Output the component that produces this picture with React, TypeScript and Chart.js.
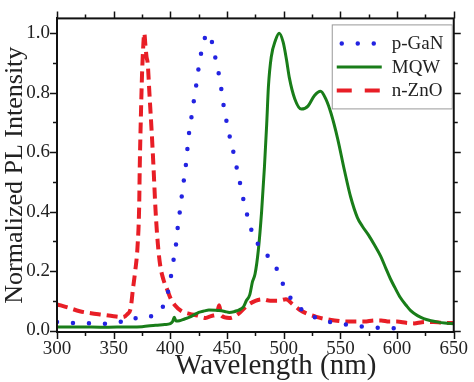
import React, { useEffect, useRef } from 'react';
import { Chart, registerables } from 'chart.js';

Chart.register(...registerables);

const SERIF = '"Liberation Serif", "Times New Roman", serif';

const xTickValues = [300, 350, 400, 450, 500, 550, 600, 650];
const yTickValues = [0, 0.2, 0.4, 0.6, 0.8, 1.0];
const xAxisTitle = 'Wavelength (nm)';
const yAxisTitle = 'Normalized PL Intensity';
const seriesNames = ['p-GaN', 'MQW', 'n-ZnO'];

const ganWavelength = [300, 313, 326, 339, 352, 360, 365, 372, 377, 384, 390, 394, 397, 400, 402, 404.7, 406, 408, 410, 411.7, 413.5, 415, 416.5, 418.7, 421, 423, 425, 427.5, 431, 433, 436, 439, 441.7, 444, 446, 448.3, 451.3, 454.5, 457.8, 460.7, 463.6, 467, 470.6, 474.7, 478, 482, 486, 489, 495, 499.5, 505, 512.6, 520, 527, 536, 547, 559, 572, 587, 600];
const ganIntensity = [0.029, 0.025, 0.025, 0.023, 0.025, 0.035, 0.045, 0.04, 0.04, 0.05, 0.06, 0.085, 0.115, 0.17, 0.22, 0.28, 0.33, 0.39, 0.45, 0.5, 0.55, 0.61, 0.665, 0.72, 0.78, 0.83, 0.885, 0.94, 0.99, 1.0, 0.98, 0.93, 0.88, 0.84, 0.78, 0.73, 0.67, 0.62, 0.56, 0.51, 0.455, 0.4, 0.35, 0.3, 0.29, 0.28, 0.25, 0.23, 0.2, 0.155, 0.115, 0.083, 0.056, 0.045, 0.032, 0.025, 0.018, 0.012, 0.009, 0.007];

const mqwWavelength = [300, 320, 340, 360, 375, 387, 395, 400, 402, 403.5, 405, 408, 412, 417, 421, 425, 430, 434, 440, 443, 448, 452, 456, 459, 462, 464.5, 467, 470, 472.5, 474.7, 477.6, 480.5, 483, 485, 486.5, 489, 492.8, 496, 499.5, 502.5, 505, 509.7, 515.5, 521.4, 527, 532.5, 537, 541.8, 547.6, 553.5, 559, 565, 569.5, 575, 579.7, 585.5, 590, 594, 598, 603, 608, 612, 618, 623.5, 630, 635, 642, 650];
const mqwIntensity = [0.012, 0.012, 0.011, 0.012, 0.013, 0.018, 0.02, 0.023, 0.03, 0.045, 0.032, 0.033, 0.038, 0.045, 0.053, 0.061, 0.066, 0.069, 0.068, 0.067, 0.064, 0.061, 0.063, 0.067, 0.072, 0.08, 0.1, 0.12, 0.165, 0.19, 0.27, 0.4, 0.55, 0.695, 0.82, 0.92, 0.977, 1.0, 0.97, 0.91, 0.85, 0.78, 0.745, 0.755, 0.79, 0.805, 0.78, 0.73, 0.645, 0.54, 0.45, 0.38, 0.35, 0.32, 0.29, 0.25, 0.21, 0.175, 0.145, 0.11, 0.085, 0.067, 0.05, 0.04, 0.033, 0.029, 0.025, 0.023];

const znoWavelength = [300, 310, 320, 330, 340, 350, 358, 362, 365, 367, 369, 371, 372.5, 373, 374, 375, 376, 377, 378, 379, 380, 381.5, 383.5, 385, 387, 389, 391, 394, 397, 400, 404, 410, 417, 424, 431, 437, 441, 443, 445, 452, 460, 468, 475, 481, 488, 495, 502, 508, 514, 521, 528, 535, 545, 556, 565, 571, 580, 586, 593, 600, 608, 615, 622, 632, 640, 650];
const znoIntensity = [0.088, 0.077, 0.065, 0.058, 0.053, 0.048, 0.045, 0.055, 0.075, 0.14, 0.2, 0.28, 0.42, 0.55, 0.72, 0.86, 0.95, 1.0, 0.96, 0.92, 0.9, 0.8, 0.67, 0.56, 0.4, 0.29, 0.22, 0.17, 0.14, 0.11, 0.085, 0.065, 0.056, 0.05, 0.042, 0.05, 0.055, 0.085, 0.05, 0.042, 0.056, 0.085, 0.1, 0.105, 0.1, 0.1, 0.105, 0.088, 0.07, 0.056, 0.047, 0.04, 0.034, 0.03, 0.03, 0.03, 0.034, 0.034, 0.03, 0.03, 0.026, 0.024, 0.028, 0.029, 0.026, 0.025];

const toPoints = (xs: number[], ys: number[]) => xs.map((x, i) => ({ x, y: ys[i] }));

const legendDashes: number[][] = [[0, 16], [], [15, 13]];

const frameTicksPlugin = {
  id: 'frameTicks',
  afterDraw(chart: any) {
    const { ctx, chartArea: a, scales } = chart;
    const xs = scales.x;
    const ys = scales.y;
    ctx.save();
    ctx.strokeStyle = '#111';
    ctx.lineWidth = 1.5;
    ctx.setLineDash([]);
    ctx.beginPath();
    for (let v = 300; v <= 650; v += 25) {
      const len = v % 50 === 0 ? 7 : 4;
      const px = Math.round(xs.getPixelForValue(v)) + 0.5;
      ctx.moveTo(px, a.bottom);
      ctx.lineTo(px, a.bottom + len);
      ctx.moveTo(px, a.top);
      ctx.lineTo(px, a.top - len);
    }
    for (let k = 0; k <= 10; k++) {
      const v = k / 10;
      const len = k % 2 === 0 ? 7 : 4;
      const py = Math.round(ys.getPixelForValue(v)) + 0.5;
      ctx.moveTo(a.left, py);
      ctx.lineTo(a.left - len, py);
      ctx.moveTo(a.right, py);
      ctx.lineTo(a.right + len, py);
    }
    ctx.stroke();
    ctx.lineWidth = 2;
    ctx.strokeRect(a.left, a.top, a.right - a.left, a.bottom - a.top);

    // x axis title (slightly right of centre, as in the source figure)
    ctx.fillStyle = '#222';
    ctx.font = `29px ${SERIF}`;
    ctx.textAlign = 'center';
    ctx.textBaseline = 'alphabetic';
    ctx.fillText(xAxisTitle, xs.getPixelForValue(493), 374);

    // legend
    const boxRight = a.right - 2;
    const boxLeft = boxRight - 120;
    const boxTop = a.top + 6;
    const boxH = 84;
    ctx.fillStyle = '#fff';
    ctx.fillRect(boxLeft, boxTop, boxRight - boxLeft, boxH);
    ctx.strokeStyle = '#999';
    ctx.lineWidth = 1;
    ctx.strokeRect(boxLeft + 0.5, boxTop + 0.5, boxRight - boxLeft, boxH);
    chart.data.datasets.forEach((ds: any, i: number) => {
      const y = boxTop + 19 + i * 23.5;
      ctx.save();
      ctx.strokeStyle = ds.borderColor;
      ctx.lineWidth = ds.borderWidth;
      ctx.lineCap = ds.borderCapStyle || 'butt';
      ctx.setLineDash(legendDashes[i]);
      ctx.beginPath();
      if (i === 0) {
        ctx.moveTo(boxLeft + 10, y);
        ctx.lineTo(boxLeft + 44, y);
      } else {
        ctx.moveTo(boxLeft + 5, y);
        ctx.lineTo(boxLeft + 50, y);
      }
      ctx.stroke();
      ctx.restore();
      ctx.fillStyle = '#222';
      ctx.font = `19px ${SERIF}`;
      ctx.textAlign = 'left';
      ctx.textBaseline = 'middle';
      ctx.fillText(ds.label, boxLeft + 60, y + 1);
    });
    ctx.restore();
  },
};

export default function App() {
  const ref = useRef<HTMLCanvasElement | null>(null);

  useEffect(() => {
    document.body.style.margin = '0';
    const canvas = ref.current;
    if (!canvas) return;
    const chart = new Chart(canvas, {
      type: 'line',
      data: {
        datasets: [
          {
            label: seriesNames[0],
            data: toPoints(ganWavelength, ganIntensity),
            borderColor: 'rgb(35,35,225)',
            borderWidth: 4.5,
            borderDash: [0, 16],
            borderCapStyle: 'round',
            pointRadius: 0,
            cubicInterpolationMode: 'monotone',
            fill: false,
          },
          {
            label: seriesNames[1],
            data: toPoints(mqwWavelength, mqwIntensity),
            borderColor: 'rgb(25,125,25)',
            borderWidth: 3,
            pointRadius: 0,
            cubicInterpolationMode: 'monotone',
            fill: false,
          },
          {
            label: seriesNames[2],
            data: toPoints(znoWavelength, znoIntensity),
            borderColor: 'rgb(232,30,38)',
            borderWidth: 4,
            borderDash: [11, 6],
            pointRadius: 0,
            cubicInterpolationMode: 'monotone',
            fill: false,
          },
        ] as any,
      },
      options: {
        animation: false,
        responsive: false,
        layout: { padding: { top: 7, right: 17, left: 0, bottom: 0 } },
        plugins: {
          legend: { display: false },
          tooltip: { enabled: false },
        },
        scales: {
          x: {
            type: 'linear',
            min: 300,
            max: 650,
            grid: { display: false, drawTicks: false },
            border: { display: true, color: '#111', width: 2 },
            afterBuildTicks: (s: any) => {
              s.ticks = xTickValues.map((v) => ({ value: v }));
            },
            afterFit: (s: any) => {
              s.height = 50;
            },
            ticks: {
              padding: 6,
              color: '#222',
              font: { family: SERIF, size: 19 },
              maxRotation: 0,
              autoSkip: false,
              callback: (v: any) => String(v),
            },
            title: { display: false },
          },
          y: {
            type: 'linear',
            min: -0.005,
            max: 1.05,
            grid: { display: false, drawTicks: false },
            border: { display: true, color: '#111', width: 2 },
            afterBuildTicks: (s: any) => {
              s.ticks = yTickValues.map((v) => ({ value: v }));
            },
            afterFit: (s: any) => {
              s.width = 57;
            },
            ticks: {
              padding: 7,
              color: '#222',
              font: { family: SERIF, size: 19 },
              autoSkip: false,
              callback: (v: any) => Number(v).toFixed(1),
            },
            title: {
              display: true,
              text: yAxisTitle,
              color: '#222',
              font: { family: SERIF, size: 26 },
              padding: { top: 0, bottom: 0 },
            },
          },
        },
      } as any,
      plugins: [frameTicksPlugin],
    });
    return () => chart.destroy();
  }, []);

  return (
    <div style={{ position: 'fixed', left: 0, top: 0, width: 474, height: 382, background: '#fff' }}>
      <canvas ref={ref} width={474} height={382} style={{ width: 474, height: 382, display: 'block' }} />
    </div>
  );
}
